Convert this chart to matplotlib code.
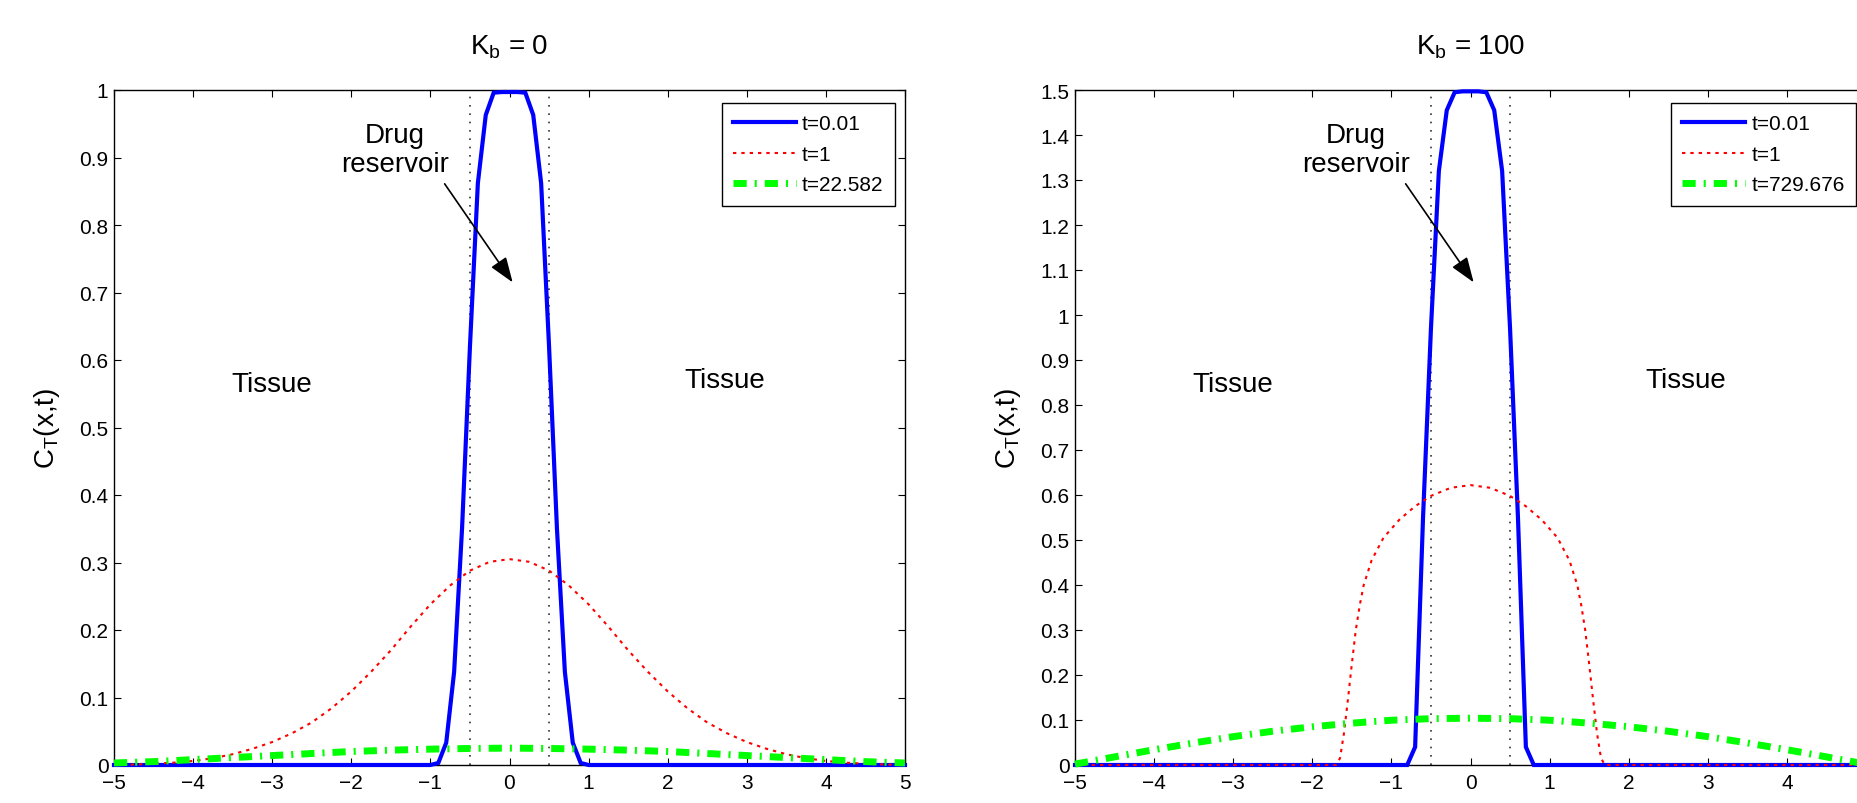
#!/usr/bin/env python3
"""Drug release profiles C_T(x,t) for K_b = 0 and K_b = 100 (two panels)."""

import matplotlib
matplotlib.use("Agg")
import matplotlib.pyplot as plt

plt.rcParams["font.family"] = ["Liberation Sans", "DejaVu Sans"]
plt.rcParams["mathtext.fontset"] = "custom"
plt.rcParams["mathtext.rm"] = "Liberation Sans"
plt.rcParams["mathtext.it"] = "Liberation Sans:italic"

# ── data ──────────────────────────────────────────────────────
# K_b = 0
left_blue_x = [-5, -1.0, -0.9, -0.8, -0.7, -0.6, -0.5, -0.4, -0.3, -0.2, -0.1, 0,
               0.1, 0.2, 0.3, 0.4, 0.5, 0.6, 0.7, 0.8, 0.9, 1.0, 5]
left_blue_y = [0, 0, 0.003, 0.033, 0.138, 0.35, 0.62, 0.862, 0.963, 0.996, 0.997, 0.997,
               0.997, 0.996, 0.963, 0.862, 0.62, 0.35, 0.138, 0.033, 0.003, 0, 0]

left_red_x = [-5, -4.75, -4.5, -4.25, -4, -3.75, -3.5, -3.25, -3, -2.75, -2.5, -2.25,
              -2, -1.75, -1.5, -1.25, -1, -0.75, -0.5, -0.25, 0,
              0.25, 0.5, 0.75, 1, 1.25, 1.5, 1.75, 2, 2.25, 2.5, 2.75,
              3, 3.25, 3.5, 3.75, 4, 4.25, 4.5, 4.75, 5]
left_red_y = [0.0002, 0.0007, 0.0018, 0.0035, 0.006, 0.010, 0.016, 0.024, 0.034, 0.047, 0.063, 0.084,
              0.109, 0.138, 0.170, 0.205, 0.238, 0.266, 0.288, 0.301, 0.305,
              0.301, 0.288, 0.266, 0.238, 0.205, 0.170, 0.138, 0.109, 0.084, 0.063, 0.047,
              0.034, 0.024, 0.016, 0.010, 0.006, 0.0035, 0.0018, 0.0007, 0.0002]

left_green_x = [-5, -4.5, -4, -3.5, -3, -2.5, -2, -1.5, -1, -0.5, 0,
                0.5, 1, 1.5, 2, 2.5, 3, 3.5, 4, 4.5, 5]
left_green_y = [0.003, 0.005, 0.008, 0.011, 0.014, 0.017, 0.020, 0.022, 0.0235, 0.0245, 0.025,
                0.0245, 0.0235, 0.022, 0.020, 0.017, 0.014, 0.011, 0.008, 0.005, 0.003]

# K_b = 100
right_blue_x = [-5, -0.8, -0.7, -0.6, -0.5, -0.4, -0.3, -0.2, -0.1, 0,
                0.1, 0.2, 0.3, 0.4, 0.5, 0.6, 0.7, 0.8, 5]
right_blue_y = [0, 0, 0.04, 0.55, 0.97, 1.32, 1.455, 1.495, 1.497, 1.497,
                1.497, 1.495, 1.455, 1.32, 0.97, 0.55, 0.04, 0, 0]

right_red_x = [-5, -1.7, -1.65, -1.6, -1.55, -1.5, -1.45, -1.4, -1.35, -1.25, -1.1, -0.9,
               -0.7, -0.5, -0.25, 0,
               0.25, 0.5, 0.7, 0.9, 1.1, 1.25, 1.35, 1.4, 1.45, 1.5, 1.55, 1.6, 1.65, 1.7, 5]
right_red_y = [0, 0, 0.015, 0.07, 0.145, 0.225, 0.30, 0.355, 0.40, 0.455, 0.505, 0.545,
               0.575, 0.598, 0.616, 0.622,
               0.616, 0.598, 0.575, 0.545, 0.505, 0.455, 0.40, 0.355, 0.30, 0.225, 0.145, 0.07,
               0.015, 0, 0]

right_green_x = [-5, -4.5, -4, -3.5, -3, -2.5, -2, -1.5, -1, -0.5, 0,
                 0.5, 1, 1.5, 2, 2.5, 3, 3.5, 4, 4.5, 5]
right_green_y = [0.002, 0.018, 0.034, 0.049, 0.063, 0.075, 0.085, 0.093, 0.0995, 0.103, 0.104,
                 0.103, 0.0995, 0.093, 0.085, 0.075, 0.063, 0.049, 0.034, 0.018, 0.002]

reservoir_edges = [-0.5, 0.5]
panel_titles = [r"K$_\mathregular{b}$ = 0", r"K$_\mathregular{b}$ = 100"]
legend_labels = [["t=0.01", "t=1", "t=22.582"], ["t=0.01", "t=1", "t=729.676"]]
y_max = [1.0, 1.5]
x_ticks = [-5, -4, -3, -2, -1, 0, 1, 2, 3, 4, 5]

panels = [
    (left_blue_x, left_blue_y, left_red_x, left_red_y, left_green_x, left_green_y),
    (right_blue_x, right_blue_y, right_red_x, right_red_y, right_green_x, right_green_y),
]

# ── figure ───────────────────────────────────────────────────
W, H = 1857, 804
fig = plt.figure(figsize=(W / 100, H / 100), dpi=100)
ax_w = 791 / W
ax_h = 675 / H
ax_b = 38 / H
axes = [fig.add_axes([114 / W, ax_b, ax_w, ax_h]),
        fig.add_axes([1075 / W, ax_b, ax_w, ax_h])]

for i, ax in enumerate(axes):
    bx, by, rx, ry, gx, gy = panels[i]
    ym = y_max[i]

    ax.plot(bx, by, color=(0, 0, 1), lw=3.0, solid_joinstyle="miter",
            label=legend_labels[i][0], zorder=3, clip_on=False)
    ax.plot(rx, ry, color=(1, 0, 0), lw=1.5, ls=(0, (1.6, 2.4)),
            label=legend_labels[i][1], zorder=3, clip_on=False)
    ax.plot(gx, gy, color=(0, 1, 0), lw=5.0, ls=(0, (1.9, 1.15, 0.3, 1.15)),
            label=legend_labels[i][2], zorder=3, clip_on=False)

    ax.vlines(reservoir_edges, 0, ym, colors="#333333", linestyles=(0, (1, 4)),
              lw=1.2, zorder=2)

    ax.set_xlim(-5, 5)
    ax.set_ylim(0, ym)
    ax.set_xticks(x_ticks)
    xlabels = [f"{v:g}".replace("-", "\u2212") for v in x_ticks]
    if i == 1:
        xlabels[-1] = ""  # falls outside the cropped picture
    ax.set_xticklabels(xlabels)
    yt = [round(k * 0.1, 1) for k in range(int(round(ym * 10)) + 1)]
    ax.set_yticks(yt)
    ax.set_yticklabels([f"{v:g}" for v in yt])

    ax.tick_params(direction="in", length=5, width=0.8, top=True, right=True,
                   labelsize=15)
    ax.tick_params(axis="x", pad=6)
    ax.tick_params(axis="y", pad=4)
    for s in ax.spines.values():
        s.set_linewidth(1.0)

    ax.set_title(panel_titles[i], fontsize=20, pad=26)
    ax.set_ylabel(r"C$_\mathregular{T}$(x,t)", fontsize=20)
    ax.yaxis.set_label_coords(-0.066, 0.5)

    ax.text(-3.0, 0.565 * ym, "Tissue", fontsize=20, ha="center", va="center")
    ax.text(2.72, 0.571 * ym, "Tissue", fontsize=20, ha="center", va="center")
    ax.text(-1.45, 0.9115 * ym, "Drug\nreservoir", fontsize=20, ha="center",
            va="center", linespacing=1.15)
    ax.annotate("", xy=(0.04, 0.715 * ym), xytext=(-0.82, 0.861 * ym),
                arrowprops=dict(arrowstyle="-|>,head_length=1.1,head_width=0.4",
                                color="k", lw=1.2, shrinkA=0, shrinkB=0,
                                mutation_scale=14))

    leg = ax.legend(loc="upper right", bbox_to_anchor=(0.9874, 0.9807),
                    borderaxespad=0, fontsize=15, fancybox=False, framealpha=1,
                    edgecolor="k", handlelength=3.0, handletextpad=0.3,
                    borderpad=0.55, labelspacing=0.55)
    leg.get_frame().set_linewidth(1.0)
    leg.set_zorder(10)

fig.savefig("out.png", dpi=100)
